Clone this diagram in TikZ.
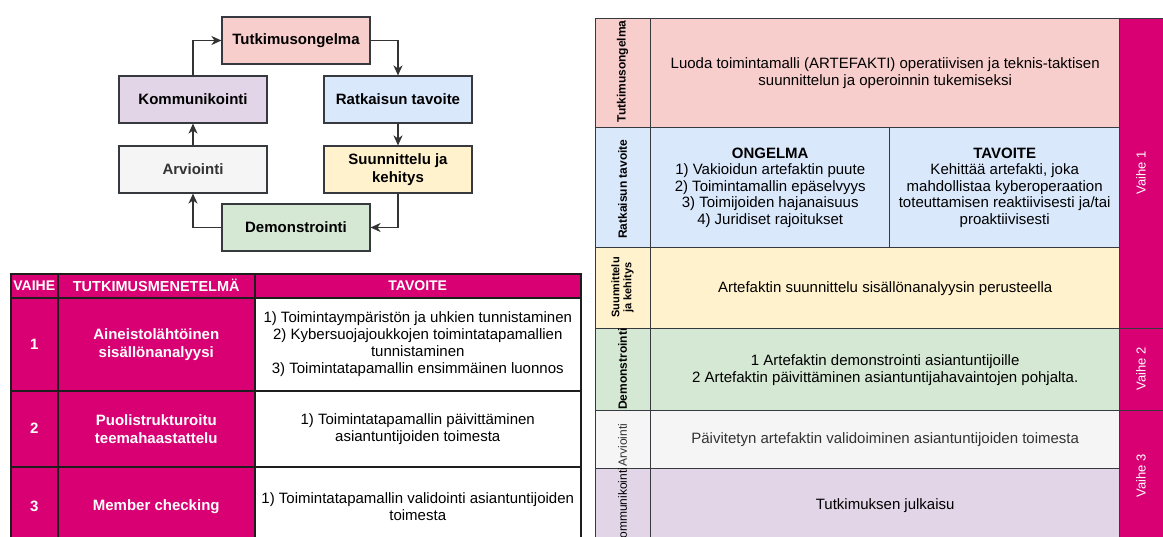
\documentclass[tikz,border=0pt]{standalone}
\usepackage{fontspec}
\setmainfont{Liberation Sans}
\usetikzlibrary{arrows.meta}

\definecolor{magentaC}{HTML}{D80073}
\definecolor{pinkC}{HTML}{F8CECC}
\definecolor{blueC}{HTML}{DAE8FC}
\definecolor{yellowC}{HTML}{FFF2CC}
\definecolor{greenC}{HTML}{D5E8D4}
\definecolor{greyC}{HTML}{F5F5F5}
\definecolor{purpleC}{HTML}{E1D5E7}
\definecolor{lineC}{HTML}{36393D}
\definecolor{gridC}{HTML}{1E1E1E}
\definecolor{arrowC}{HTML}{333333}
\definecolor{softText}{HTML}{333333}

\tikzset{
  flowbox/.style={draw=lineC, line width=1.1pt, minimum width=148pt, minimum height=47pt,
    inner sep=0pt, align=center, font=\fontsize{15}{18}\selectfont\bfseries},
  flow/.style={draw=arrowC, line width=1.5pt, -{Stealth[length=10pt,width=9pt,inset=3pt]}},
  tcell/.style={draw=lineC, line width=1.4pt, anchor=north west, inner sep=0pt,
    align=center, font=\fontsize{15}{17}\selectfont},
  lcell/.style={tcell, draw=gridC, line width=1.5pt},
  thead/.style={lcell, fill=magentaC, text=white, font=\fontsize{14}{16}\selectfont\bfseries},
  tmag/.style={lcell, fill=magentaC, text=white, font=\fontsize{15}{18}\selectfont\bfseries},
  twhite/.style={lcell, fill=white},
  sidelab/.style={rotate=90, align=center, inner sep=0pt, font=\fontsize{12}{12}\selectfont\bfseries},
  phaselab/.style={rotate=90, inner sep=0pt, text=white, font=\fontsize{13}{15}\selectfont},
}

\begin{document}
\begin{tikzpicture}[x=1pt,y=-1pt]
\clip (0,0) rectangle (1163,536);
\fill[white] (0,0) rectangle (1163,536);

% ---------- research cycle ----------
\node[flowbox, fill=pinkC]   (tutk) at (296,40.5)  {Tutkimusongelma};
\node[flowbox, fill=purpleC] (komm) at (193,99.5)  {Kommunikointi};
\node[flowbox, fill=blueC]   (ratk) at (398,99.5)  {Ratkaisun tavoite};
\node[flowbox, fill=greyC, text=softText] (arvi) at (193,169.5) {Arviointi};
\node[flowbox, fill=yellowC] (suun) at (398,169.5) {Suunnittelu ja\\kehitys};
\node[flowbox, fill=greenC]  (demo) at (296,227.5) {Demonstrointi};

\draw[flow] (komm.north) |- (tutk.west);
\draw[flow] (tutk.east) -| (ratk.north);
\draw[flow] (ratk.south) -- (suun.north);
\draw[flow] (suun.south) |- (demo.east);
\draw[flow] (demo.west) -| (arvi.south);
\draw[flow] (arvi.north) -- (komm.south);

% ---------- method table ----------
\node[thead, minimum width=47pt,  minimum height=24pt] (hvaihe) at (10,273)  {VAIHE};
\node[thead, minimum width=197pt, minimum height=24pt, font=\fontsize{14.5}{16}\selectfont\bfseries] (hmet) at (57,273) {TUTKIMUSMENETELMÄ};
\node[thead, minimum width=326pt, minimum height=24pt] (htav)   at (254,273) {TAVOITE};

\node[tmag,   minimum width=47pt,  minimum height=93pt] (n1) at (10,297)  {1};
\node[tmag,   minimum width=197pt, minimum height=93pt] (m1) at (57,297)  {Aineistolähtöinen\\sisällönanalyysi};
\node[twhite, minimum width=326pt, minimum height=93pt] (g1) at (254,297)
  {1) Toimintaympäristön ja uhkien tunnistaminen\\2) Kybersuojajoukkojen toimintatapamallien\\tunnistaminen\\3) Toimintatapamallin ensimmäinen luonnos};

\node[tmag,   minimum width=47pt,  minimum height=76pt] (n2) at (10,390)  {2};
\node[tmag,   minimum width=197pt, minimum height=76pt] (m2) at (57,390)  {Puolistrukturoitu\\teemahaastattelu};
\node[twhite, minimum width=326pt, minimum height=76pt] (g2) at (254,390)
  {1) Toimintatapamallin päivittäminen\\asiantuntijoiden toimesta};

\node[tmag,   minimum width=47pt,  minimum height=79pt] (n3) at (10,466)  {3};
\node[tmag,   minimum width=197pt, minimum height=79pt] (m3) at (57,466)  {Member checking};
\node[twhite, minimum width=326pt, minimum height=79pt] (g3) at (254,466)
  {1) Toimintatapamallin validointi asiantuntijoiden\\toimesta};

% ---------- phase table ----------
% phase column
\node[tcell, fill=magentaC, minimum width=60pt, minimum height=310pt] (ph1) at (1119,18)  {};
\node[tcell, fill=magentaC, minimum width=60pt, minimum height=82pt]  (ph2) at (1119,328) {};
\node[tcell, fill=magentaC, minimum width=60pt, minimum height=132pt] (ph3) at (1119,410) {};
\node[phaselab] (ph1t) at (1141,173) {Vaihe 1};
\node[phaselab] (ph2t) at (1141,369) {Vaihe 2};
\node[phaselab] (ph3t) at (1141,476) {Vaihe 3};

% rows
\node[tcell, fill=pinkC, minimum width=55pt,  minimum height=109pt] (l1) at (595,18) {};
\node[tcell, fill=pinkC, minimum width=469pt, minimum height=109pt] (c1) at (650,18)
  {Luoda toimintamalli (ARTEFAKTI) operatiivisen ja teknis-taktisen\\suunnittelun ja operoinnin tukemiseksi};

\node[tcell, fill=blueC, minimum width=55pt,  minimum height=120pt] (l2) at (595,127) {};
\node[tcell, fill=blueC, minimum width=239pt, minimum height=120pt,
      font=\fontsize{15}{16.6}\selectfont] (c2a) at (650,127)
  {\textbf{ONGELMA}\\1) Vakioidun artefaktin puute\\2) Toimintamallin epäselvyys\\3) Toimijoiden hajanaisuus\\4) Juridiset rajoitukset};
\node[tcell, fill=blueC, minimum width=230pt, minimum height=120pt,
      font=\fontsize{15}{16.6}\selectfont] (c2b) at (889,127)
  {\textbf{TAVOITE}\\Kehittää artefakti, joka\\mahdollistaa kyberoperaation\\toteuttamisen reaktiivisesti ja/tai\\proaktiivisesti};

\node[tcell, fill=yellowC, minimum width=55pt,  minimum height=81pt] (l3) at (595,247) {};
\node[tcell, fill=yellowC, minimum width=469pt, minimum height=81pt] (c3) at (650,247)
  {Artefaktin suunnittelu sisällönanalyysin perusteella};

\node[tcell, fill=greenC, minimum width=55pt,  minimum height=82pt] (l4) at (595,328) {};
\node[tcell, fill=greenC, minimum width=469pt, minimum height=82pt] (c4) at (650,328)
  {1 Artefaktin demonstrointi asiantuntijoille\\2 Artefaktin päivittäminen asiantuntijahavaintojen pohjalta.};

\node[tcell, fill=greyC, minimum width=55pt,  minimum height=58pt] (l5) at (595,410) {};
\node[tcell, fill=greyC, minimum width=469pt, minimum height=58pt, text=softText] (c5) at (650,410)
  {Päivitetyn artefaktin validoiminen asiantuntijoiden toimesta};

\node[tcell, fill=purpleC, minimum width=55pt,  minimum height=74pt] (l6) at (595,468) {};
\node[tcell, fill=purpleC, minimum width=469pt, minimum height=74pt] (c6) at (650,468)
  {Tutkimuksen julkaisu};

% vertical row titles
\node[sidelab] (l1t) at (622.5,71.5) {Tutkimusongelma};
\node[sidelab] (l2t) at (622.5,189) {Ratkaisun tavoite};
\node[sidelab, font=\fontsize{11}{12}\selectfont\bfseries] (l3t) at (622.5,287.5) {Suunnittelu\\ja kehitys};
\node[sidelab] (l4t) at (622.5,369) {Demonstrointi};
\node[sidelab, font=\fontsize{12}{12}\selectfont, text=softText] (l5t) at (622.5,445) {Arviointi};
\begin{scope}
  \clip (595,468) rectangle (650,542);
  \node[sidelab, font=\fontsize{12}{12}\selectfont] (l6t) at (622.5,507) {Kommunikointi};
\end{scope}
\end{tikzpicture}
\end{document}
